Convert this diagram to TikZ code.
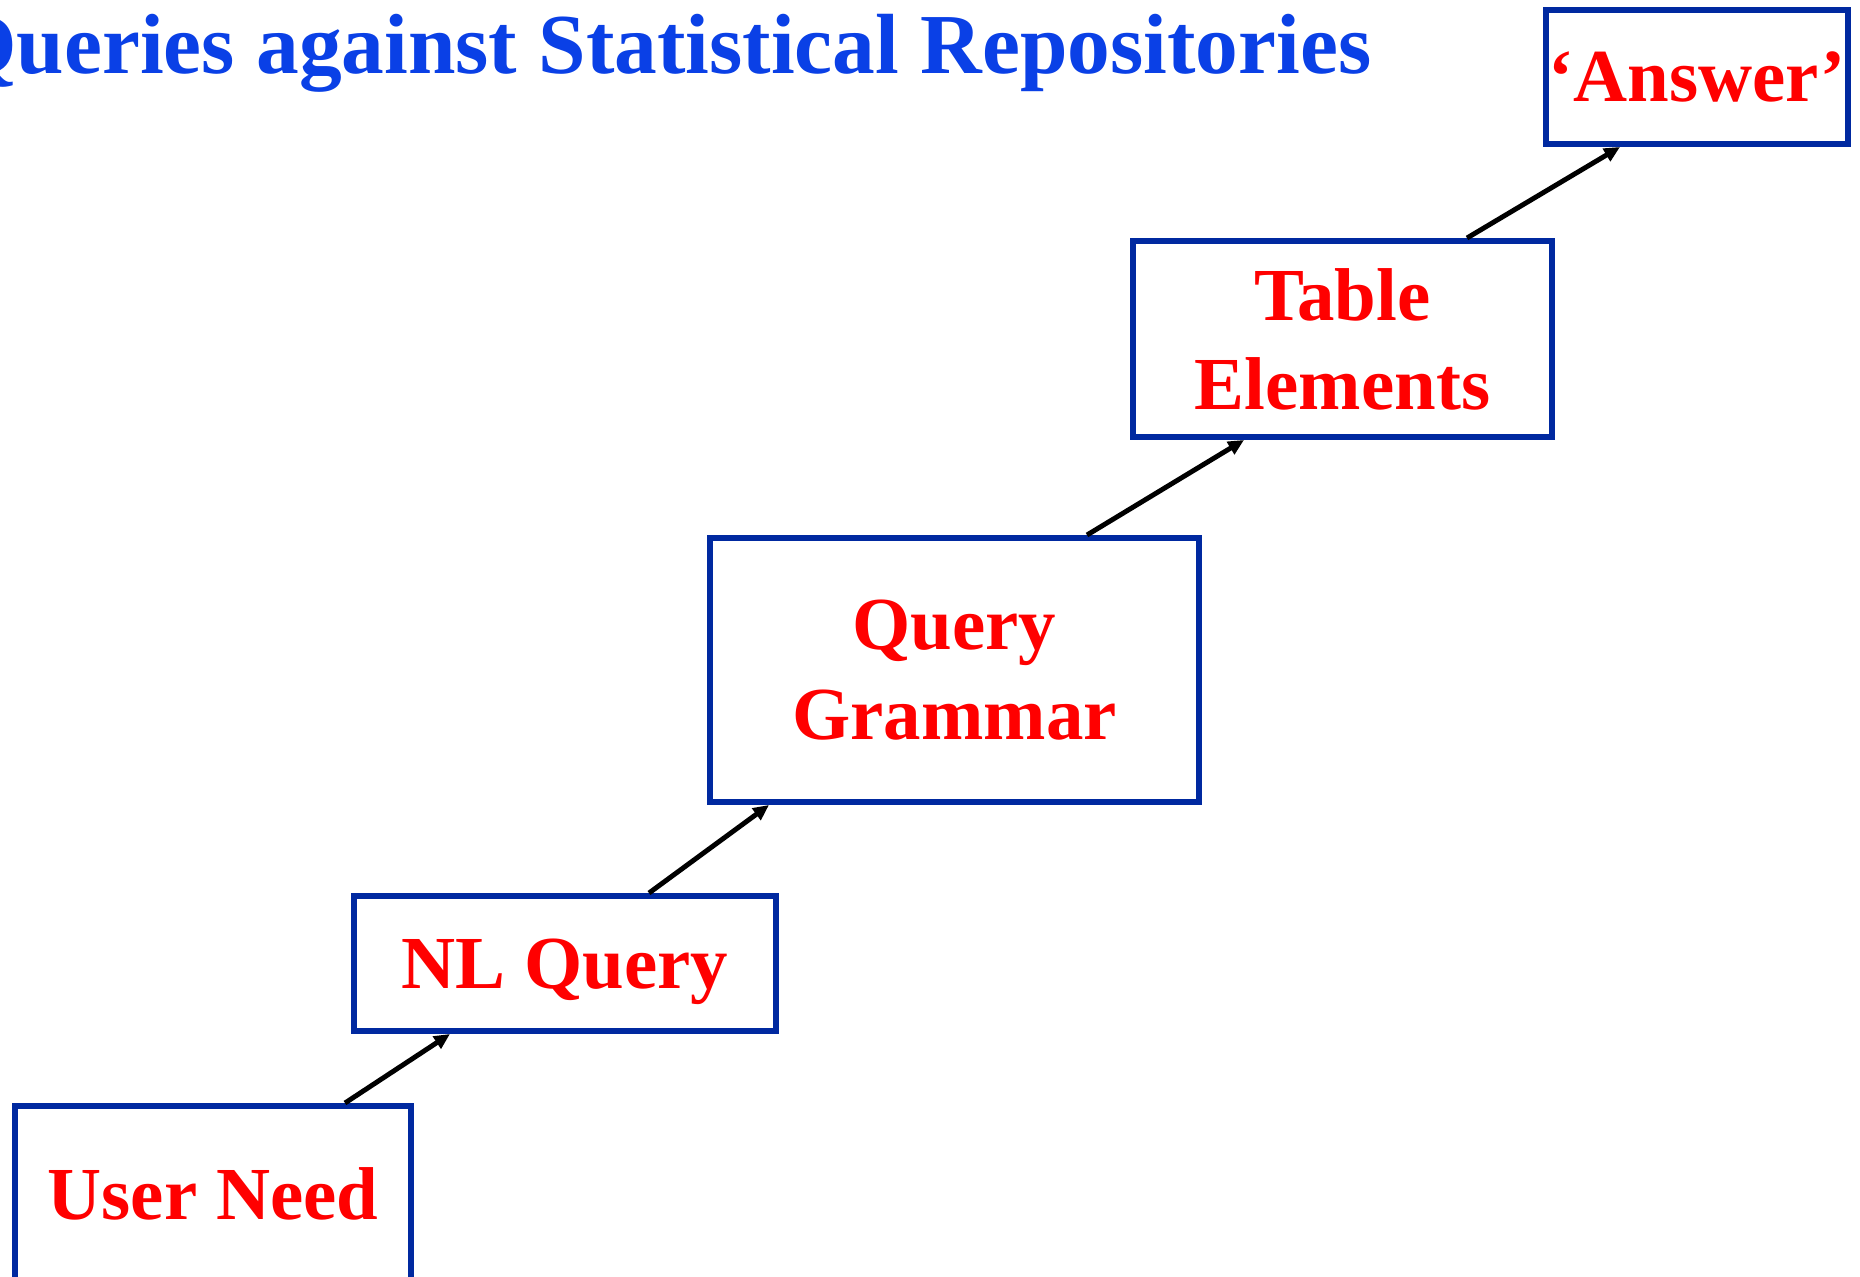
\documentclass[tikz,border=0pt]{standalone}
\usepackage{fontspec}
\setmainfont{Liberation Serif}
\usetikzlibrary{arrows.meta}
\definecolor{boxblue}{RGB}{0,41,160}
\definecolor{titleblue}{RGB}{10,64,230}

\begin{document}
\begin{tikzpicture}[
stepbox/.style={draw=boxblue,line width=1.7pt,text=red,align=center,inner sep=0pt,text depth=0pt,
  font=\fontsize{21.3}{25.5}\selectfont\bfseries},
link/.style={line width=1.4pt,-{Triangle[length=4.5pt,width=4pt]}}
]
\useasboundingbox (0,0) rectangle (18.6,-12.77);

\node[anchor=base east,inner sep=0pt,text=titleblue,font=\fontsize{24.3}{29}\selectfont\bfseries] (title) at (13.72,-0.74) {Queries against Statistical Repositories};

\node[stepbox,minimum width=3.96cm,minimum height=1.76cm] (need) at (2.13,-11.94) {User Need};
\node[stepbox,minimum width=4.22cm,minimum height=1.35cm] (nlq) at (5.65,-9.635) {NL Query};
\node[stepbox,minimum width=4.89cm,minimum height=2.64cm] (grammar) at (9.545,-6.70) {Query\\Grammar};
\node[stepbox,minimum width=4.19cm,minimum height=1.96cm] (elements) at (13.425,-3.39) {Table\\Elements};
\node[stepbox,minimum width=3.02cm,minimum height=1.34cm] (answer) at (16.97,-0.77) {‘Answer’};

\draw[link] ([xshift=1.32cm]need.north) -- ([xshift=-1.15cm]nlq.south);
\draw[link] ([xshift=0.84cm]nlq.north) -- ([xshift=-1.855cm]grammar.south);
\draw[link] ([xshift=1.325cm]grammar.north) -- ([xshift=-0.985cm]elements.south);
\draw[link] ([xshift=1.245cm]elements.north) -- ([xshift=-0.77cm]answer.south);
\end{tikzpicture}
\end{document}
